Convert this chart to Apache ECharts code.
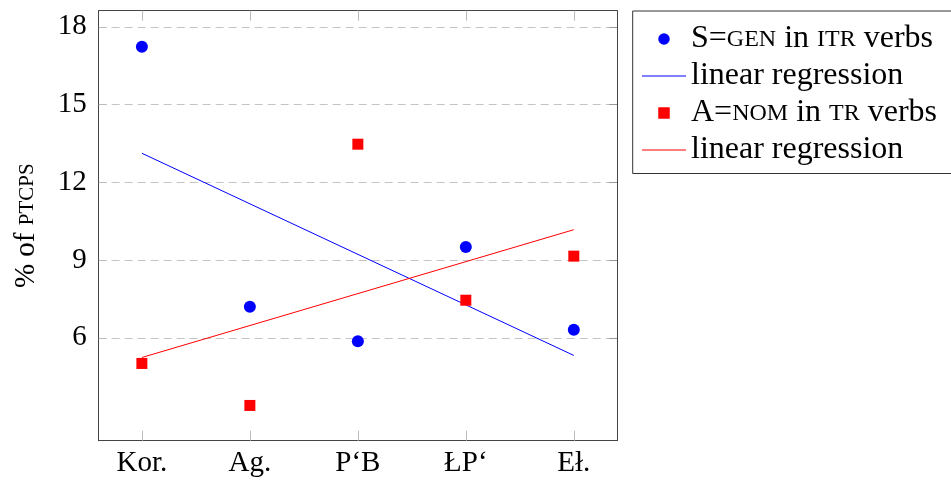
<!DOCTYPE html>
<html><head><meta charset="utf-8">
<script src="https://cdn.jsdelivr.net/npm/echarts@6/dist/echarts.min.js"></script>
<style>html,body{margin:0;padding:0;background:#fff}#c{width:951px;height:482px}</style>
</head><body><div id="c"></div>
<script>
const categories = ['Kor.', 'Ag.', 'P‘B', 'ŁP‘', 'Eł.'];
const sGen = [17.23, 7.2, 5.87, 9.5, 6.31];
const aNom = [5.01, 3.39, 13.47, 7.45, 9.15];
const sGenRegression = [13.12, 5.32];   // at first and last category
const aNomRegression = [5.24, 10.17];
const yTicks = [6, 9, 12, 15, 18];

const FONT = 'Liberation Serif';
const FS = 29, SC = 21;
const LFS = 32, LSC = 24;
const BLUE = '#0000ff', RED = '#ff0000';
const xIdx = categories.map((_, i) => i);
const last = categories.length - 1;

const chart = echarts.init(document.getElementById('c'));
const mk = (fs, pad) => ({fontFamily: FONT, fontSize: fs, color: '#000', verticalAlign: 'bottom', padding: [0, 0, pad, 0]});

const legendNames = {
  sgen: '{n|S=}{s|GEN}{n| in }{s|ITR}{n| verbs}',
  lr1: '{n|linear regression}',
  anom: '{n|A=}{s|NOM}{n| in }{s|TR}{n| verbs}',
  lr2: '{n|linear regression}'
};

const lineIcon = 'path://M0,0H44V1.2H0Z';
const squareIcon = 'path://M0,0H10V10H0Z';

const axisCommon = {
  type: 'value', min: -0.4, max: 4.4,
  axisLine: {show: true, onZero: false, lineStyle: {color: '#444', width: 1}},
  splitLine: {show: false}
};

chart.setOption({
  animation: false,
  backgroundColor: '#fff',
  grid: {left: 98.7, right: 334, top: 10.7, bottom: 41.3, containLabel: false, outerBoundsMode: 'none'},
  legend: {
    data: [
      {name: 'sgen', icon: 'circle', itemStyle: {color: BLUE, borderColor: BLUE, borderWidth: 0}},
      {name: 'lr1', icon: lineIcon, itemStyle: {color: BLUE, borderColor: BLUE, borderWidth: 0}},
      {name: 'anom', icon: squareIcon, itemStyle: {color: RED, borderColor: RED, borderWidth: 0}},
      {name: 'lr2', icon: lineIcon, itemStyle: {color: RED, borderColor: RED, borderWidth: 0}}
    ],
    orient: 'vertical', left: 632.7, top: 11,
    padding: [12, 80, 7.5, 9.3],
    itemWidth: 44, itemHeight: 11.5, itemGap: 5,
    borderColor: '#333', borderWidth: 1,
    formatter: n => legendNames[n],
    textStyle: {rich: {n: mk(LFS, 0), s: mk(LSC, 3)}}
  },
  xAxis: [
    Object.assign({}, axisCommon, {
      position: 'bottom',
      axisTick: {inside: true, length: 10, customValues: xIdx, lineStyle: {color: '#bbb'}},
      axisLabel: {customValues: xIdx, formatter: v => categories[Math.round(v)], fontFamily: FONT, fontSize: FS, color: '#000', margin: 8}
    }),
    Object.assign({}, axisCommon, {
      position: 'top',
      axisTick: {inside: true, length: 10, customValues: xIdx, lineStyle: {color: '#bbb'}},
      axisLabel: {show: false}
    })
  ],
  yAxis: [
    {
      type: 'value', min: 2.03, max: 18.62, position: 'left',
      name: '{n|% of }{s|PTCPS}', nameLocation: 'middle', nameGap: 58,
      nameTextStyle: {rich: {n: mk(FS, 0), s: mk(SC, 3)}},
      axisLine: {show: true, onZero: false, lineStyle: {color: '#444', width: 1}},
      axisTick: {inside: true, length: 8, customValues: yTicks, lineStyle: {color: '#bbb'}},
      axisLabel: {customValues: yTicks, fontFamily: FONT, fontSize: FS, color: '#000', margin: 12},
      splitLine: {show: true, lineStyle: {color: '#c4c4c4', type: [8, 5], width: 1}}
    },
    {
      type: 'value', min: 2.03, max: 18.62, position: 'right',
      axisLine: {show: true, onZero: false, lineStyle: {color: '#444', width: 1}},
      axisTick: {inside: true, length: 8, customValues: yTicks, lineStyle: {color: '#999'}},
      axisLabel: {show: false},
      splitLine: {show: false}
    }
  ],
  series: [
    {name: 'sgen', type: 'scatter', symbol: 'circle', symbolSize: 12, itemStyle: {color: BLUE, opacity: 1},
     data: sGen.map((v, i) => [i, v]), z: 5},
    {name: 'lr1', type: 'line', symbol: 'none', lineStyle: {color: BLUE, width: 1}, itemStyle: {color: BLUE},
     data: [[0, sGenRegression[0]], [last, sGenRegression[1]]], z: 3},
    {name: 'anom', type: 'scatter', symbol: 'rect', symbolSize: 11, itemStyle: {color: RED, opacity: 1},
     data: aNom.map((v, i) => [i, v]), z: 5},
    {name: 'lr2', type: 'line', symbol: 'none', lineStyle: {color: RED, width: 1}, itemStyle: {color: RED},
     data: [[0, aNomRegression[0]], [last, aNomRegression[1]]], z: 3}
  ]
});
</script></body></html>
